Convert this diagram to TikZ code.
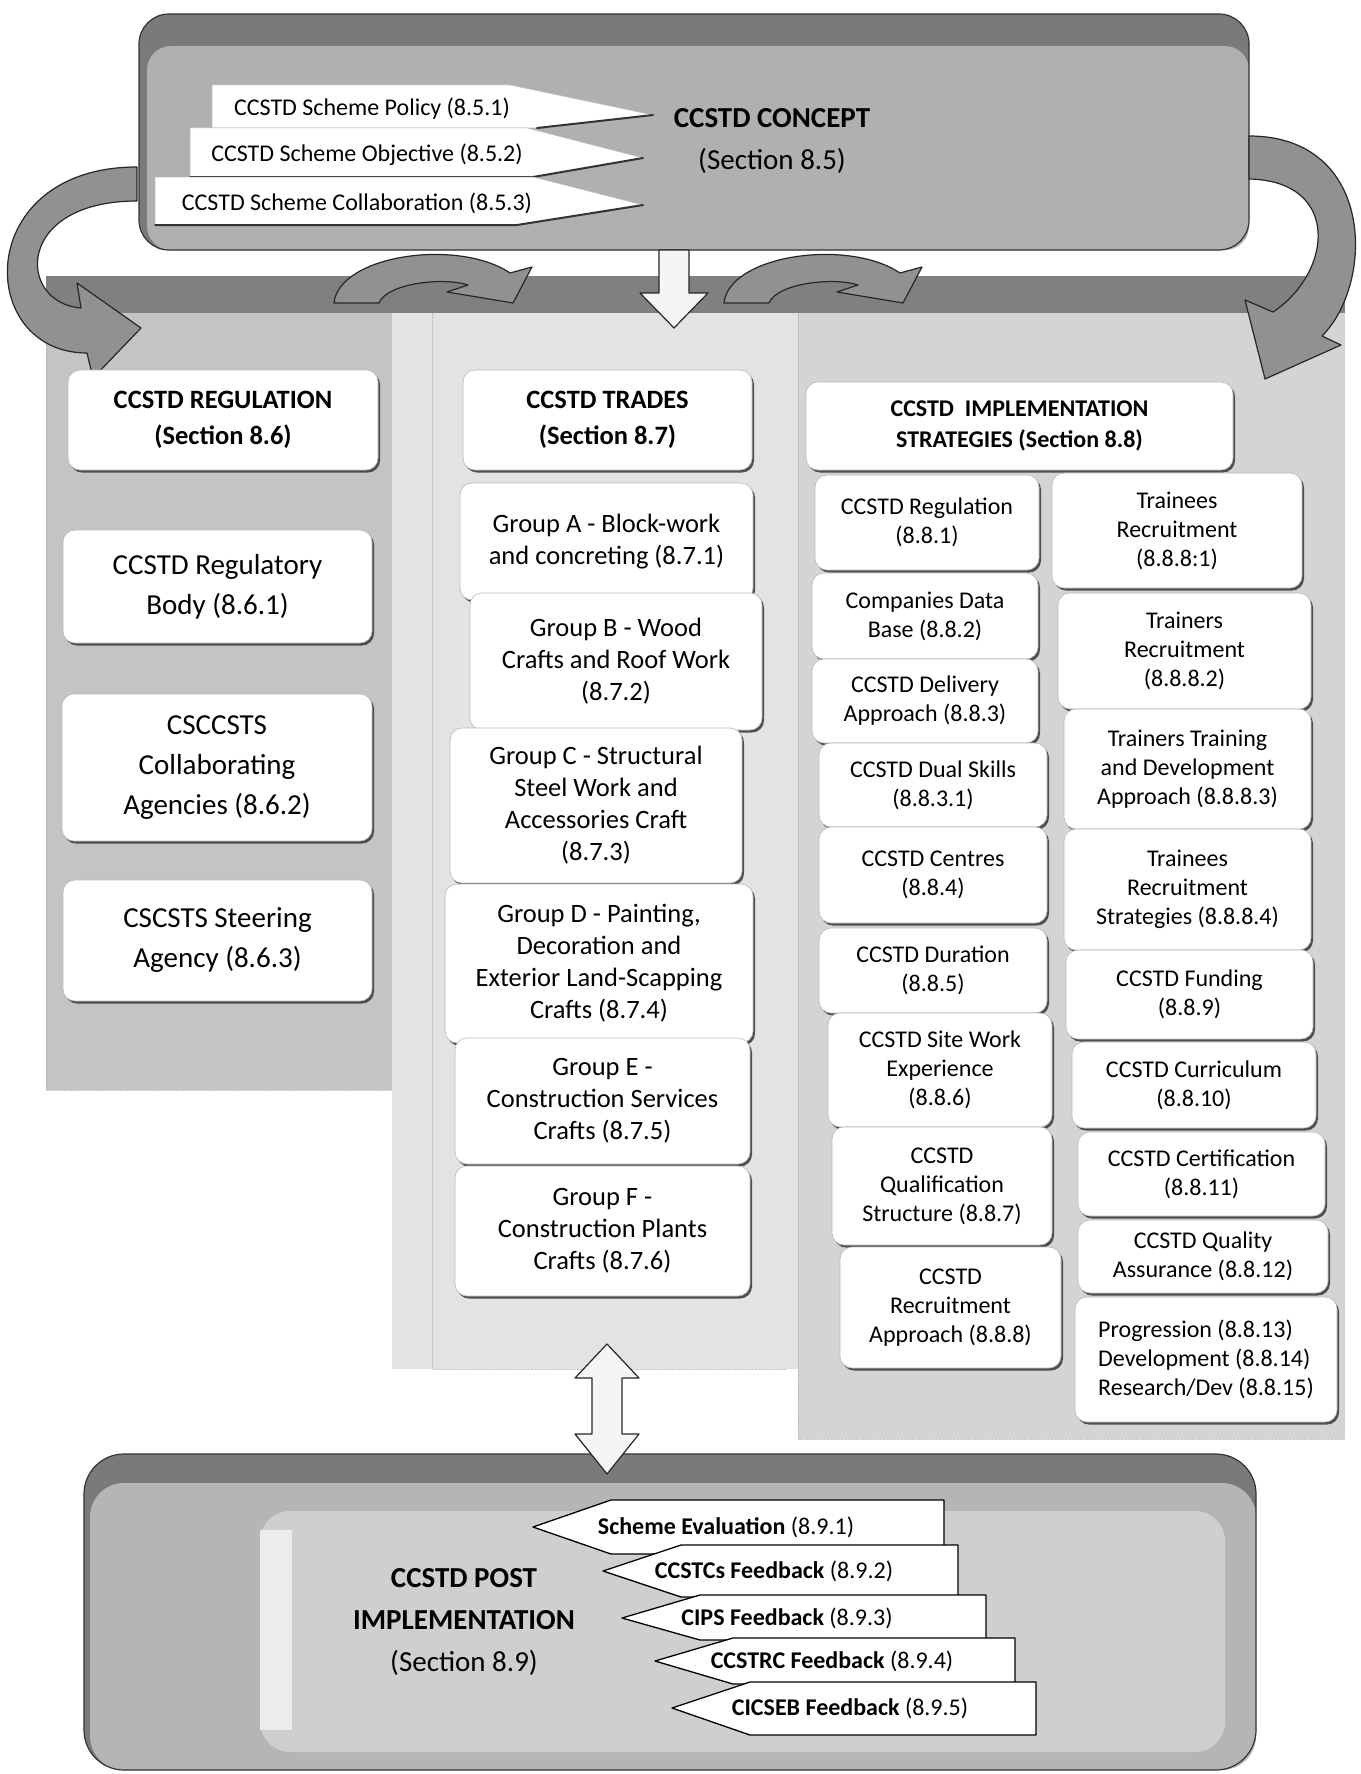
\documentclass[tikz,border=0pt]{standalone}
\usepackage{fontspec}
\setmainfont{Carlito}
\usetikzlibrary{shadows}
\definecolor{bandgray}{gray}{0.50}
\definecolor{leftface}{gray}{0.77}
\definecolor{midface}{gray}{0.89}
\definecolor{rightface}{gray}{0.83}
\definecolor{conceptface}{gray}{0.69}
\definecolor{conceptband}{gray}{0.48}
\definecolor{postface}{gray}{0.71}
\definecolor{postinner}{gray}{0.81}
\definecolor{arrowgray}{gray}{0.57}
\begin{document}
\begin{tikzpicture}[x=1pt,y=-1pt,line join=round,line cap=round,
  card/.style={draw=gray!55,line width=.6pt,fill=white,rounded corners=12pt,align=center,inner sep=2pt,
    drop shadow={shadow xshift=2pt,shadow yshift=-2.5pt,fill=black!75,opacity=.9}},
  headcard/.style={card,font=\bfseries\fontsize{26.5}{36}\selectfont},
  leftcard/.style={card,font=\fontsize{29}{40}\selectfont},
  midcard/.style={card,font=\fontsize{26.5}{32}\selectfont},
  rightcard/.style={card,font=\fontsize{24}{29}\selectfont},
  tagtxt/.style={font=\fontsize{24}{29}\selectfont,inner sep=0pt},
  titletxt/.style={font=\fontsize{29}{42}\selectfont,align=center,inner sep=0pt},
  blockarrow/.style={fill=arrowgray,draw=black!85,line width=1.2pt},
  hollowarrow/.style={fill=gray!8,draw=black!85,line width=1.2pt},
  tagshape/.style={fill=white,draw=gray!50,line width=.5pt},
  feedshape/.style={fill=white,draw=black,line width=1.3pt},
  tagshadow/.style={draw=black!80,line width=2pt}]
\useasboundingbox (0,0) rectangle (1360,1774);

% panels
\fill[midface] (392,313) rectangle (798,1369);
\fill[leftface] (46,313) rectangle (392,1090);
\fill[rightface] (798,313) rectangle (1345,1439);
\fill[bandgray] (46,276) rectangle (1345,313);
\draw[gray!60,densely dotted] (432,313) -- (432,1369) -- (786,1369) (798,313) -- (798,1439) -- (1345,1439) (46,313) -- (46,1090) -- (392,1090);

% concept box
\fill[conceptband,rounded corners=30pt] (139,14) rectangle (1249,250);
\fill[conceptface,rounded corners=24pt] (147,46) rectangle (1249,250);
\draw[black!80,line width=1.2pt,rounded corners=30pt] (139,14) rectangle (1249,250);

% post implementation box
\fill[conceptband,rounded corners=40pt] (84,1454) rectangle (1256,1770);
\fill[postface,rounded corners=34pt] (90,1483) rectangle (1256,1770);
\fill[postinner,rounded corners=30pt] (260,1511) rectangle (1225,1752);
\fill[white!60!postinner] (260,1530) rectangle (292,1730);
\draw[black!80,line width=1.2pt,rounded corners=40pt] (84,1454) rectangle (1256,1770);

% curved arrows
\draw[blockarrow] (137,167) .. controls (-28,167) and (-25,353) .. (87,353) -- (93,378) -- (141,328) -- (77,283) -- (81,308)
  .. controls (17,303) and (14,201) .. (137,201) -- cycle;
\draw[blockarrow] (1249,136) .. controls (1375,136) and (1375,283) .. (1322,336) -- (1341,345) -- (1265,379) -- (1245,300) -- (1273,312)
  .. controls (1333,272) and (1341,181) .. (1249,179) -- cycle;
\draw[blockarrow] (334,303) .. controls (339,255) and (458,238) .. (510,273) -- (532,267) -- (513,303) -- (447,292) -- (468,285)
  .. controls (444,277) and (387,283) .. (379,303) -- cycle;
\draw[blockarrow] (724,303) .. controls (729,255) and (848,238) .. (900,273) -- (922,267) -- (903,303) -- (837,292) -- (858,285)
  .. controls (834,277) and (777,283) .. (769,303) -- cycle;
\draw[hollowarrow] (659,250) -- (689,250) -- (689,293) -- (708,293) -- (674,328) -- (640,293) -- (659,293) -- cycle;
\draw[hollowarrow] (607,1344) -- (639,1378) -- (622,1378) -- (622,1434) -- (639,1434) -- (607,1474) -- (575,1434) -- (592,1434)
  -- (592,1378) -- (575,1378) -- cycle;

% concept tags
\draw[tagshape] (212,85) -- (510,85) -- (653,115) -- (537,128) -- (212,128) -- cycle;
\draw[tagshadow] (537,128) -- (653,115);
\draw[tagshape] (190,128) -- (527,128) -- (643,158) -- (533,177) -- (190,177) -- cycle;
\draw[tagshadow] (190,177) -- (533,177) -- (643,158);
\draw[tagshape] (155,177) -- (533,177) -- (643,205) -- (517,225) -- (155,225) -- cycle;
\draw[tagshadow] (155,225) -- (517,225) -- (643,205);
\node[tagtxt] (policy) at (372,109) {CCSTD Scheme Policy (8.5.1)};
\node[tagtxt] (objective) at (367,155) {CCSTD Scheme Objective (8.5.2)};
\node[tagtxt] (collab) at (357,203) {CCSTD Scheme Collaboration (8.5.3)};
\node[titletxt] (concept) at (772,141) {\textbf{CCSTD CONCEPT}\\(Section 8.5)};

% regulation column
\node[headcard,minimum width=310pt,minimum height=100pt] (reghead) at (223,420) {CCSTD REGULATION\\(Section 8.6)};
\node[leftcard,minimum width=309pt,minimum height=113pt] (regbody) at (217.5,586.5) {CCSTD Regulatory\\Body (8.6.1)};
\node[leftcard,minimum width=310pt,minimum height=147pt] (agencies) at (217,767.5) {CSCCSTS\\Collaborating\\Agencies (8.6.2)};
\node[leftcard,minimum width=309pt,minimum height=121pt] (steering) at (217.5,940.5) {CSCSTS Steering\\Agency (8.6.3)};

% trades column
\node[headcard,minimum width=289pt,minimum height=100pt] (tradehead) at (607.5,420) {CCSTD TRADES\\(Section 8.7)};
\node[midcard,minimum width=293pt,minimum height=117pt] (groupA) at (606.5,541.5) {Group A - Block-work\\and concreting (8.7.1)};
\node[midcard,minimum width=292pt,minimum height=137pt] (groupB) at (616,661.5) {Group B - Wood\\Crafts and Roof Work\\(8.7.2)};
\node[midcard,minimum width=292pt,minimum height=155pt] (groupC) at (596,805.5) {Group C - Structural\\Steel Work and\\Accessories Craft\\(8.7.3)};
\node[midcard,minimum width=308pt,minimum height=159pt] (groupD) at (599,963.5) {Group D - Painting,\\Decoration and\\Exterior Land-Scapping\\Crafts (8.7.4)};
\node[midcard,minimum width=295pt,minimum height=126pt] (groupE) at (602.5,1101) {Group E -\\Construction Services\\Crafts (8.7.5)};
\node[midcard,minimum width=295pt,minimum height=130pt] (groupF) at (602.5,1231) {Group F -\\Construction Plants\\Crafts (8.7.6)};

% strategies column
\node[card,font=\bfseries\fontsize{24}{31}\selectfont,minimum width=427pt,minimum height=88pt] (implhead) at (1019.5,426) {CCSTD\ \ IMPLEMENTATION\\STRATEGIES (Section 8.8)};
\node[rightcard,minimum width=224pt,minimum height=95pt] (regul) at (927,522.5) {CCSTD Regulation\\(8.8.1)};
\node[rightcard,minimum width=226pt,minimum height=86pt] (database) at (925,616) {Companies Data\\Base (8.8.2)};
\node[rightcard,minimum width=226pt,minimum height=84pt] (delivery) at (925,701) {CCSTD Delivery\\Approach (8.8.3)};
\node[rightcard,minimum width=228pt,minimum height=84pt] (dualskill) at (933,785) {CCSTD Dual Skills\\(8.8.3.1)};
\node[rightcard,minimum width=228pt,minimum height=96pt] (centres) at (933,875) {CCSTD Centres\\(8.8.4)};
\node[rightcard,minimum width=228pt,minimum height=85pt] (duration) at (933,970.5) {CCSTD Duration\\(8.8.5)};
\node[rightcard,minimum width=224pt,minimum height=114pt] (sitework) at (940,1070) {CCSTD Site Work\\Experience\\(8.8.6)};
\node[rightcard,minimum width=220pt,minimum height=118pt] (qualif) at (942,1186) {CCSTD\\Qualification\\Structure (8.8.7)};
\node[rightcard,minimum width=221pt,minimum height=121pt] (recruit) at (950.5,1307.5) {CCSTD\\Recruitment\\Approach (8.8.8)};
\node[rightcard,minimum width=250pt,minimum height=115pt] (traineesrec) at (1177,530.5) {Trainees\\Recruitment\\(8.8.8:1)};
\node[rightcard,minimum width=253pt,minimum height=116pt] (trainersrec) at (1184.5,651) {Trainers\\Recruitment\\(8.8.8.2)};
\node[rightcard,minimum width=247pt,minimum height=120pt] (trainerstrain) at (1187.5,769) {Trainers Training\\and Development\\Approach (8.8.8.3)};
\node[rightcard,minimum width=247pt,minimum height=121pt] (traineesstrat) at (1187.5,889.5) {Trainees\\Recruitment\\Strategies (8.8.8.4)};
\node[rightcard,minimum width=247pt,minimum height=89pt] (funding) at (1189.5,994.5) {CCSTD Funding\\(8.8.9)};
\node[rightcard,minimum width=244pt,minimum height=86pt] (curric) at (1194,1085) {CCSTD Curriculum\\(8.8.10)};
\node[rightcard,minimum width=247pt,minimum height=84pt] (certif) at (1201.5,1174) {CCSTD Certification\\(8.8.11)};
\node[rightcard,minimum width=250pt,minimum height=73pt] (quality) at (1203,1256.5) {CCSTD Quality\\Assurance (8.8.12)};
\node[rightcard,align=left,minimum width=262pt,minimum height=125pt] (progress) at (1206,1359.5) {Progression (8.8.13)\\Development (8.8.14)\\Research/Dev (8.8.15)};

% post implementation tags
\draw[feedshape] (944,1500) -- (944,1554) -- (611,1554) -- (533,1527) -- (611,1500) -- cycle;
\draw[feedshape] (958,1545) -- (958,1597) -- (681,1597) -- (603,1571) -- (681,1545) -- cycle;
\draw[feedshape] (986,1595) -- (986,1640) -- (700,1640) -- (622,1618) -- (700,1595) -- cycle;
\draw[feedshape] (1015,1638) -- (1015,1684) -- (733,1684) -- (655,1661) -- (733,1638) -- cycle;
\draw[feedshape] (1036,1682) -- (1036,1735) -- (750,1735) -- (672,1708) -- (750,1682) -- cycle;
\node[tagtxt] (evalfb) at (726,1527) {\textbf{Scheme Evaluation} (8.9.1)};
\node[tagtxt] (ccstcfb) at (774,1571) {\textbf{CCSTCs Feedback} (8.9.2)};
\node[tagtxt] (cipsfb) at (787,1618) {\textbf{CIPS Feedback} (8.9.3)};
\node[tagtxt] (ccstrcfb) at (832,1661) {\textbf{CCSTRC Feedback} (8.9.4)};
\node[tagtxt] (cicsebfb) at (850,1708) {\textbf{CICSEB Feedback} (8.9.5)};
\node[titletxt] (post) at (464,1622) {\textbf{CCSTD POST}\\\textbf{IMPLEMENTATION}\\(Section 8.9)};
\end{tikzpicture}
\end{document}
